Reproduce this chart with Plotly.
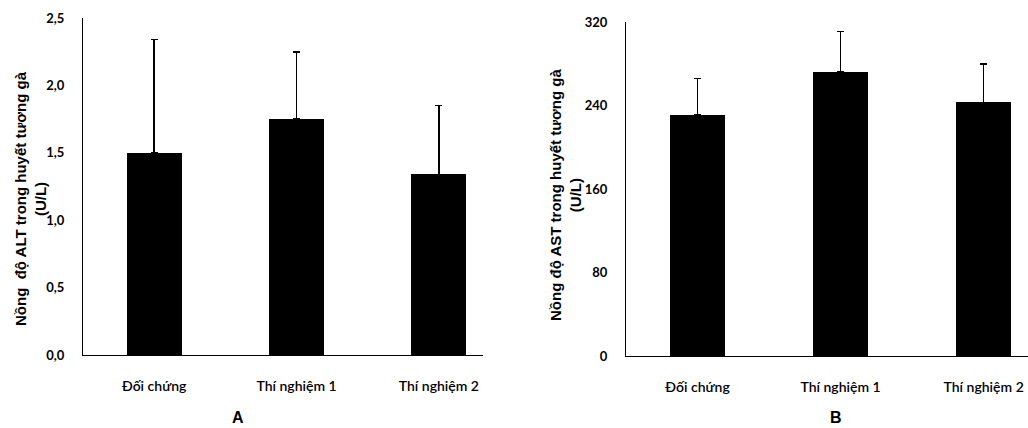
import plotly.graph_objects as go

categories = ["Đối chứng", "Thí nghiệm 1", "Thí nghiệm 2"]
alt_mean = [1.50, 1.75, 1.34]
alt_sd = [0.84, 0.50, 0.51]
ast_mean = [231, 272, 243]
ast_sd = [35, 39, 37]
alt_ticks = [0, 0.5, 1.0, 1.5, 2.0, 2.5]
alt_ticktext = ["0,0", "0,5", "1,0", "1,5", "2,0", "2,5"]
ast_ticks = [0, 80, 160, 240, 320]
ast_ticktext = ["0", "80", "160", "240", "320"]

W, H = 1028, 428
TICKFONT = dict(family="Lato, Open Sans, sans-serif", size=14, color="black", weight=600)

fig = go.Figure()
fig.add_trace(go.Bar(
    x=categories, y=alt_mean, xaxis="x", yaxis="y",
    marker=dict(color="black", line=dict(width=0)), width=0.385,
    error_y=dict(type="data", array=alt_sd, arrayminus=[0] * 3, symmetric=False,
                 color="black", thickness=1.6, width=3.5),
))
fig.add_trace(go.Bar(
    x=categories, y=ast_mean, xaxis="x2", yaxis="y2",
    marker=dict(color="black", line=dict(width=0)), width=0.385,
    error_y=dict(type="data", array=ast_sd, arrayminus=[0] * 3, symmetric=False,
                 color="black", thickness=1.6, width=3.5),
))

xcommon = dict(type="category", range=[-0.5, 2.31], showgrid=False, zeroline=False,
               showline=True, linecolor="black", linewidth=1.3, ticks="",
               tickfont=TICKFONT, ticklabelstandoff=18, automargin=False)
ycommon = dict(showgrid=False, zeroline=False, showline=True, linecolor="black",
               linewidth=1.3, ticks="", tickfont=dict(TICKFONT, weight="bold", size=13),
               ticklabelstandoff=15, automargin=False)

fig.update_layout(
    template="none",
    width=W, height=H, margin=dict(l=0, r=0, t=0, b=0, autoexpand=False),
    paper_bgcolor="white", plot_bgcolor="white", showlegend=False, bargap=0,
    xaxis=dict(xcommon, domain=[83 / W, 483 / W], anchor="y"),
    yaxis=dict(ycommon, domain=[1 - 355 / H, 1 - 18 / H], range=[0, 2.5],
               tickvals=alt_ticks, ticktext=alt_ticktext, anchor="x"),
    xaxis2=dict(xcommon, domain=[626 / W, 1.0], anchor="y2"),
    yaxis2=dict(ycommon, domain=[1 - 356 / H, 1 - 22 / H], range=[0, 320],
                tickvals=ast_ticks, ticktext=ast_ticktext, anchor="x2"),
)

titlefont = dict(family="Arial, Liberation Sans, sans-serif", size=15, color="black", weight="bold")
fig.add_annotation(x=30 / W, y=1 - 199 / H, xref="paper", yref="paper",
                   text="Nồng  độ ALT trong huyết tương gà<br>(U/L)", textangle=-90,
                   showarrow=False, font=titlefont, xanchor="center", yanchor="middle")
fig.add_annotation(x=565 / W, y=1 - 195 / H, xref="paper", yref="paper",
                   text="Nồng độ AST trong huyết tương gà<br>(U/L)", textangle=-90,
                   showarrow=False, font=titlefont, xanchor="center", yanchor="middle")
labfont = dict(family="Arial, Liberation Sans, sans-serif", size=16, color="black", weight="bold")
fig.add_annotation(x=238 / W, y=1 - 417 / H, xref="paper", yref="paper", text="A",
                   showarrow=False, font=labfont, xanchor="center", yanchor="middle")
fig.add_annotation(x=836 / W, y=1 - 417 / H, xref="paper", yref="paper", text="B",
                   showarrow=False, font=labfont, xanchor="center", yanchor="middle")

fig.write_html("out.html")
